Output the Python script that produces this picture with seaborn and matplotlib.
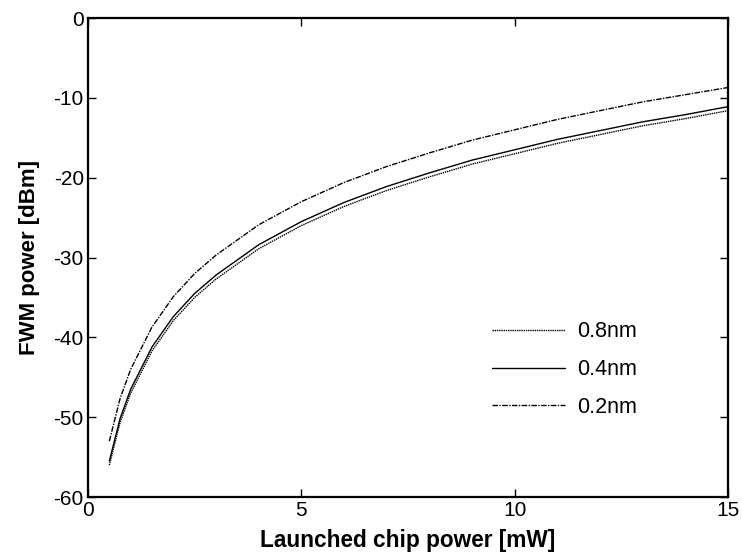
import numpy as np
import pandas as pd
import matplotlib
matplotlib.use("Agg")
import matplotlib.pyplot as plt
import seaborn as sns

# Launched chip power [mW]
power = [0.5, 0.75, 1, 1.5, 2, 2.5, 3, 4, 5, 6, 7, 8, 9, 10, 11, 12, 13, 14, 15]
# FWM power [dBm] for each spacing
fwm_02 = [-53.0, -47.7, -44.0, -38.7, -34.9, -32.0, -29.7, -25.9, -23.0, -20.6,
          -18.6, -16.9, -15.3, -14.0, -12.7, -11.6, -10.5, -9.6, -8.7]
fwm_04 = [-55.5, -50.2, -46.5, -41.2, -37.4, -34.5, -32.2, -28.4, -25.5, -23.1,
          -21.1, -19.4, -17.8, -16.5, -15.2, -14.1, -13.0, -12.1, -11.1]
fwm_08 = [-56.0, -50.7, -47.0, -41.7, -37.9, -35.0, -32.7, -28.9, -26.0, -23.6,
          -21.6, -19.9, -18.3, -17.0, -15.7, -14.6, -13.5, -12.6, -11.6]
labels = ["0.8nm", "0.4nm", "0.2nm"]
x_ticks = [0, 5, 10, 15]
y_ticks = [-60, -50, -40, -30, -20, -10, 0]

df = pd.concat([
    pd.DataFrame({"power": power, "fwm": fwm_08, "spacing": labels[0]}),
    pd.DataFrame({"power": power, "fwm": fwm_04, "spacing": labels[1]}),
    pd.DataFrame({"power": power, "fwm": fwm_02, "spacing": labels[2]}),
])

sns.set_style("ticks", {"xtick.direction": "in", "ytick.direction": "in",
                        "axes.edgecolor": "black", "text.color": "black",
                        "axes.labelcolor": "black", "xtick.color": "black",
                        "ytick.color": "black"})
plt.rcParams["font.family"] = ["Liberation Sans", "DejaVu Sans"]
plt.rcParams["axes.unicode_minus"] = False

fig = plt.figure(figsize=(7.42, 5.58), dpi=100)
ax = fig.add_axes([0.1186, 0.1093, 0.8627, 0.8584])

sns.lineplot(data=df, x="power", y="fwm", style="spacing", style_order=labels,
             dashes={"0.8nm": (1, 0.6), "0.4nm": "", "0.2nm": (4, 1, 1, 1)},
             color="black", linewidth=1.0, ax=ax)

ax.set_xlim(0, 15)
ax.set_ylim(-60, 0)
ax.set_xticks(x_ticks)
ax.set_yticks(y_ticks)
ax.tick_params(axis="both", direction="in", top=True, right=True, labelsize=15,
               length=6, width=1, pad=3)
for s in ax.spines.values():
    s.set_visible(True)
    s.set_linewidth(1.6)
ax.set_xlabel("Launched chip power [mW]", fontsize=16.3, fontweight="bold", labelpad=6)
ax.set_ylabel("FWM power [dBm]", fontsize=16, fontweight="bold", labelpad=10)

ax.legend(loc="upper left", bbox_to_anchor=(0.601, 0.407), frameon=False,
          fontsize=15.5, handlelength=3.4, labelspacing=0.78, handletextpad=0.55)

fig.savefig("out.png", dpi=100)
